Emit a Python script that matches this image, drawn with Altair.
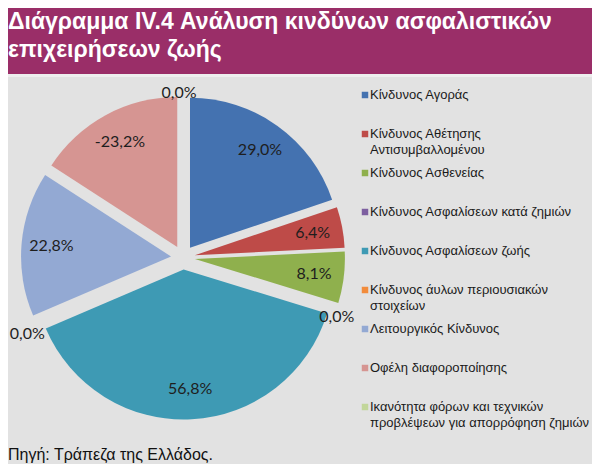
import altair as alt
import pandas as pd

# ---- data ----
categories = [
    "Κίνδυνος Αγοράς",
    "Κίνδυνος Αθέτησης\nΑντισυμβαλλομένου",
    "Κίνδυνος Ασθενείας",
    "Κίνδυνος Ασφαλίσεων κατά ζημιών",
    "Κίνδυνος Ασφαλίσεων ζωής",
    "Κίνδυνος άυλων περιουσιακών\nστοιχείων",
    "Λειτουργικός Κίνδυνος",
    "Οφέλη διαφοροποίησης",
    "Ικανότητα φόρων και τεχνικών\nπροβλέψεων για απορρόφηση ζημιών",
]
values = [29.0, 6.4, 8.1, 0.0, 56.8, 0.0, 22.8, -23.2, 0.0]
colors = ["#4472B0", "#BE4B48", "#8FB04D", "#7D5FA0", "#3E9AB4",
          "#F28C3C", "#93A9D3", "#D69592", "#C2D69A"]
title_lines = ["Διάγραμμα IV.4 Ανάλυση κινδύνων ασφαλιστικών", "επιχειρήσεων ζωής"]
source_text = "Πηγή: Τράπεζα της Ελλάδος."

labels = [f"{v:.1f}".replace(".", ",") + "%" for v in values]

df = pd.DataFrame({
    "idx": list(range(len(categories))),
    "cat": categories,
    "v": values,
    "label": labels,
})

W, H = 584, 456
CX, CY, R, EXPL = 175, 249.5, 150, 12

color_enc = alt.Color("cat:N", scale=alt.Scale(domain=categories, range=colors), legend=None)

pie_base = (
    alt.Chart(df)
    .transform_calculate(a="abs(datum.v)")
    .transform_joinaggregate(tot="sum(a)")
    .transform_window(cum="sum(a)", sort=[alt.SortField("idx")], frame=[None, 0])
    .transform_calculate(
        t0="(datum.cum - datum.a) / datum.tot * 2 * PI",
        t1="datum.cum / datum.tot * 2 * PI",
    )
    .transform_calculate(mid="(datum.t0 + datum.t1) / 2")
    .transform_calculate(
        px=f"{CX} + {EXPL} * sin(datum.mid)",
        py=f"{CY} - {EXPL} * cos(datum.mid)",
    )
)

arcs = pie_base.mark_arc(outerRadius=R).encode(
    x=alt.X("px:Q", scale=None, axis=None),
    y=alt.Y("py:Q", scale=None, axis=None),
    theta=alt.Theta("t0:Q", scale=None, stack=None),
    theta2="t1:Q",
    color=color_enc,
)

pie_labels = pie_base.transform_calculate(
    lx=f"datum.v == 0 ? {CX} + 165 * sin(datum.mid) - 4 : datum.px + 120 * sin(datum.mid)",
    ly=f"datum.v == 0 ? {CY} - 165 * cos(datum.mid) + 12 * abs(sin(datum.mid)) : datum.py - 120 * cos(datum.mid)",
).mark_text(font="Lato", fontSize=16, color="#1E1E1E", align="center", baseline="middle").encode(
    x=alt.X("lx:Q", scale=None, axis=None),
    y=alt.Y("ly:Q", scale=None, axis=None),
    text="label:N",
)

# legend built from the same categories
leg_y = alt.Y("cat:N", scale=alt.Scale(type="point", domain=categories, range=[87, 399], padding=0), axis=None)
leg_squares = alt.Chart(df).mark_square(size=42, opacity=1).encode(
    x=alt.value(357), y=leg_y, color=color_enc
)
leg_texts = alt.Chart(df).mark_text(
    align="left", baseline="alphabetic", dy=4, lineBreak="\n", lineHeight=16,
    font="Liberation Sans", fontSize=13, color="#1A1A1A",
).encode(x=alt.value(362), y=leg_y, text="cat:N")

one = pd.DataFrame({"a": [0]})
band = alt.Chart(one).mark_rect(color="#9A2E68").encode(
    x=alt.value(0), x2=alt.value(W), y=alt.value(0), y2=alt.value(66)
)
strip = alt.Chart(one).mark_rect(color="#EEEEEE").encode(
    x=alt.value(0), x2=alt.value(W), y=alt.value(66), y2=alt.value(69)
)
title = alt.Chart(pd.DataFrame({"t": ["\n".join(title_lines)]})).mark_text(
    align="left", baseline="alphabetic", lineBreak="\n", lineHeight=28,
    font="Liberation Sans", fontWeight="bold", fontSize=23, color="white",
).encode(x=alt.value(0), y=alt.value(21), text="t:N")

source = alt.Chart(pd.DataFrame({"t": [source_text]})).mark_text(
    align="left", baseline="alphabetic", font="Liberation Sans", fontSize=16, color="#111111",
).encode(x=alt.value(0), y=alt.value(452), text="t:N")

chart = (
    alt.layer(band, strip, arcs, pie_labels, leg_squares, leg_texts, title, source)
    .resolve_scale(y="independent", x="independent")
    .properties(width=W, height=H, background="#E2E2E2", padding=0, autosize="none")
    .configure_view(stroke=None)
)

chart.save("out.html", embed_options={"renderer": "svg", "actions": False})
